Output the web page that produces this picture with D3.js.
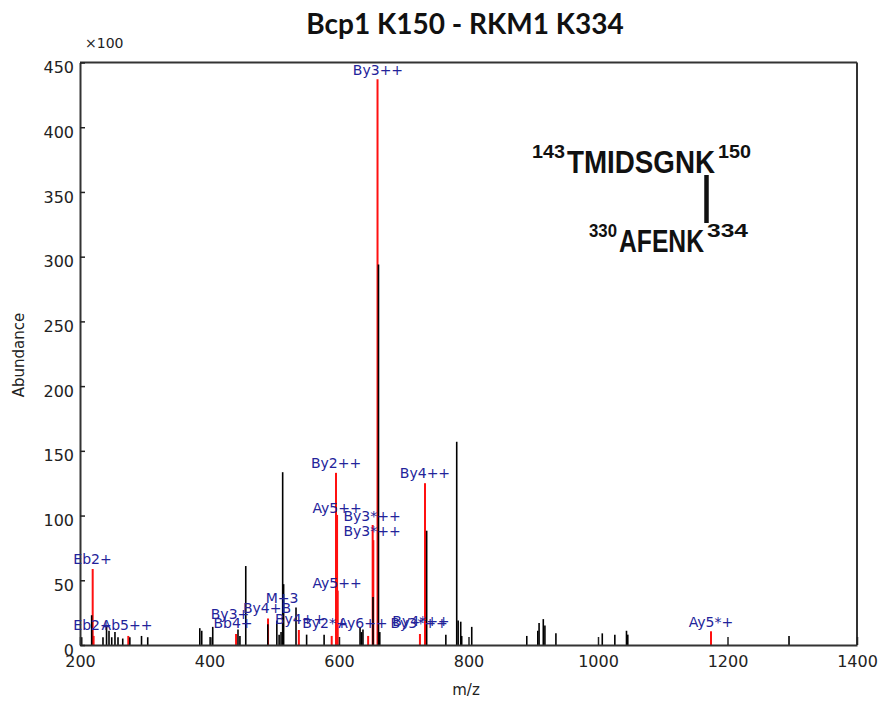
<!DOCTYPE html>
<html>
<head>
<meta charset="utf-8">
<script src="https://cdn.jsdelivr.net/npm/d3@7/dist/d3.min.js"></script>
<style>
  html, body { margin: 0; padding: 0; background: #fff; }
  svg { display: block; }
</style>
</head>
<body>
<div id="chart"></div>
<script>
// ---- data (m/z, abundance in units of x100) ----
const xTicks = [200, 400, 600, 800, 1000, 1200, 1400];
const yTicks = [0, 50, 100, 150, 200, 250, 300, 350, 400, 450];

const blackMz = [202.6, 218, 235.5, 241, 244.8, 249, 254, 258.7, 266, 277, 295, 304.6,
  385, 388, 402, 405, 444, 447, 456, 490, 504, 507.5, 510.5, 513, 514.5, 533.6, 550, 577,
  632.5, 634.7, 637, 652.5, 661, 663, 735.4, 765, 781.8, 784, 788, 789.5, 805, 890, 907, 909,
  915.5, 918, 935, 1006.6, 1026, 1044, 1046, 1295];
const blackAb = [6, 23, 6, 14, 11, 6, 10, 6, 5, 6, 7, 6,
  13, 11, 6, 14, 12, 7, 61, 16, 19, 8, 10, 133.5, 47, 29, 8, 8,
  14, 10, 12, 37, 294, 10, 88.3, 8, 157, 19, 18, 7, 14, 7, 11, 17,
  20, 15, 9, 9, 8, 11, 8, 7];

const redMz = [219.6, 221, 274.6, 441, 490.4, 538, 588.7, 595.4, 597, 598, 645, 652, 653,
  659.5, 725, 732.8, 1174.5];
const redAb = [58.7, 7, 7, 8.5, 20.5, 11.6, 7, 133, 100.5, 42, 7, 92.7, 81,
  437, 8.5, 125, 10.6];

const labelText = ["By3++", "By2++", "By4++", "Ay5++", "By3*++", "By3*++", "Ay5++",
  "Eb2+", "Eb2+", "Ab5++", "By3+", "Bb4+", "By4+B", "M+3", "By4++", "By2*+", "Ay6++",
  "By3*++", "By4*++", "Ay5*+"];
const labelMz = [660.2, 595.4, 732.8, 597, 651, 651, 597,
  219.3, 219.3, 272.6, 431.7, 436.3, 488.8, 512, 539.8, 578.4, 637,
  723.6, 726.6, 1174.5];
const labelAb = [440.5, 136.8, 129, 102, 95.8, 84.2, 44,
  62.6, 11.6, 11.6, 20, 13, 24.7, 32.5, 16.2, 13, 13,
  13, 14.7, 13.9];

// ---- layout ----
const W = 879, H = 702;
const svg = d3.select("#chart").append("svg").attr("width", W).attr("height", H);

const x = d3.scaleLinear().domain([200, 1400]).range([80, 857]);
const y = d3.scaleLinear().domain([0, 450]).range([645, 62.5]);

const axisFont = "'DejaVu Sans', Verdana, sans-serif";

// title
svg.append("text")
  .attr("x", 465).attr("y", 34)
  .attr("text-anchor", "middle")
  .style("font-family", "Lato, 'Open Sans', sans-serif")
  .style("font-weight", "bold")
  .style("font-size", "28px")
  .style("fill", "#111")
  .text("Bcp1 K150 - RKM1 K334");

// x100
svg.append("text")
  .attr("x", 85).attr("y", 48)
  .style("font-family", axisFont).style("font-size", "14px").style("fill", "#222")
  .text("×100");

// frame: top and right
svg.append("line").attr("x1", x(200)).attr("x2", x(1400)).attr("y1", y(450)).attr("y2", y(450))
  .attr("stroke", "#333").attr("stroke-width", 2);
svg.append("line").attr("x1", x(1400)).attr("x2", x(1400)).attr("y1", y(450)).attr("y2", y(0))
  .attr("stroke", "#333").attr("stroke-width", 2);

// peaks
svg.append("g").selectAll("line").data(redMz).join("line")
  .attr("x1", (d) => x(d)).attr("x2", (d) => x(d))
  .attr("y1", y(0)).attr("y2", (d, i) => y(redAb[i]))
  .attr("stroke", "#ff1010").attr("stroke-width", 2);

svg.append("g").selectAll("line").data(blackMz).join("line")
  .attr("x1", (d) => x(d)).attr("x2", (d) => x(d))
  .attr("y1", y(0)).attr("y2", (d, i) => y(blackAb[i]))
  .attr("stroke", "#000").attr("stroke-width", 1.6);

// axes
const gx = svg.append("g").attr("transform", `translate(0,${y(0)})`)
  .call(d3.axisBottom(x).tickValues(xTicks).tickFormat(d3.format("d"))
    .tickSize(-8).tickSizeOuter(0).tickPadding(11));
const gy = svg.append("g").attr("transform", `translate(${x(200)},0)`)
  .call(d3.axisLeft(y).tickValues(yTicks).tickFormat(d3.format("d"))
    .tickSize(-5).tickSizeOuter(0).tickPadding(6));

[gx, gy].forEach((g) => {
  g.select(".domain").attr("stroke", "#333").attr("stroke-width", 2);
  g.selectAll(".tick line").attr("stroke", "#222").attr("stroke-width", 1.5);
  g.selectAll(".tick text")
    .style("font-family", axisFont).style("font-size", "16px").style("fill", "#222");
});
gy.selectAll(".tick text").attr("y", 5);

// axis titles
svg.append("text")
  .attr("transform", "translate(24,355) rotate(-90)")
  .attr("text-anchor", "middle")
  .style("font-family", axisFont).style("font-size", "15px").style("fill", "#222")
  .text("Abundance");
svg.append("text")
  .attr("x", 466).attr("y", 695)
  .attr("text-anchor", "middle")
  .style("font-family", axisFont).style("font-size", "15px").style("fill", "#222")
  .text("m/z");

// peak labels
svg.append("g").selectAll("text").data(labelText).join("text")
  .attr("x", (d, i) => x(labelMz[i]))
  .attr("y", (d, i) => y(labelAb[i]))
  .attr("text-anchor", "middle")
  .style("font-family", axisFont).style("font-size", "14px").style("fill", "#23239a")
  .text((d) => d);

// peptide annotation
const annFont = "'Liberation Sans Narrow', 'Liberation Sans', Arial, sans-serif";
function ann(txt, x0, yb, len, size) {
  svg.append("text")
    .attr("x", x0).attr("y", yb)
    .attr("textLength", len).attr("lengthAdjust", "spacingAndGlyphs")
    .style("font-family", annFont).style("font-weight", "bold")
    .style("font-size", size + "px").style("fill", "#111")
    .text(txt);
}
ann("143", 532, 158, 33, 19);
ann("TMIDSGNK", 567, 173, 148, 31);
ann("150", 718, 158, 33, 19);
svg.append("line").attr("x1", 706.5).attr("x2", 706.5).attr("y1", 175).attr("y2", 223)
  .attr("stroke", "#111").attr("stroke-width", 4.5);
ann("330", 589, 237, 28, 19);
ann("AFENK", 619, 252, 85, 31);
ann("334", 707, 237, 41, 19);
</script>
</body>
</html>
